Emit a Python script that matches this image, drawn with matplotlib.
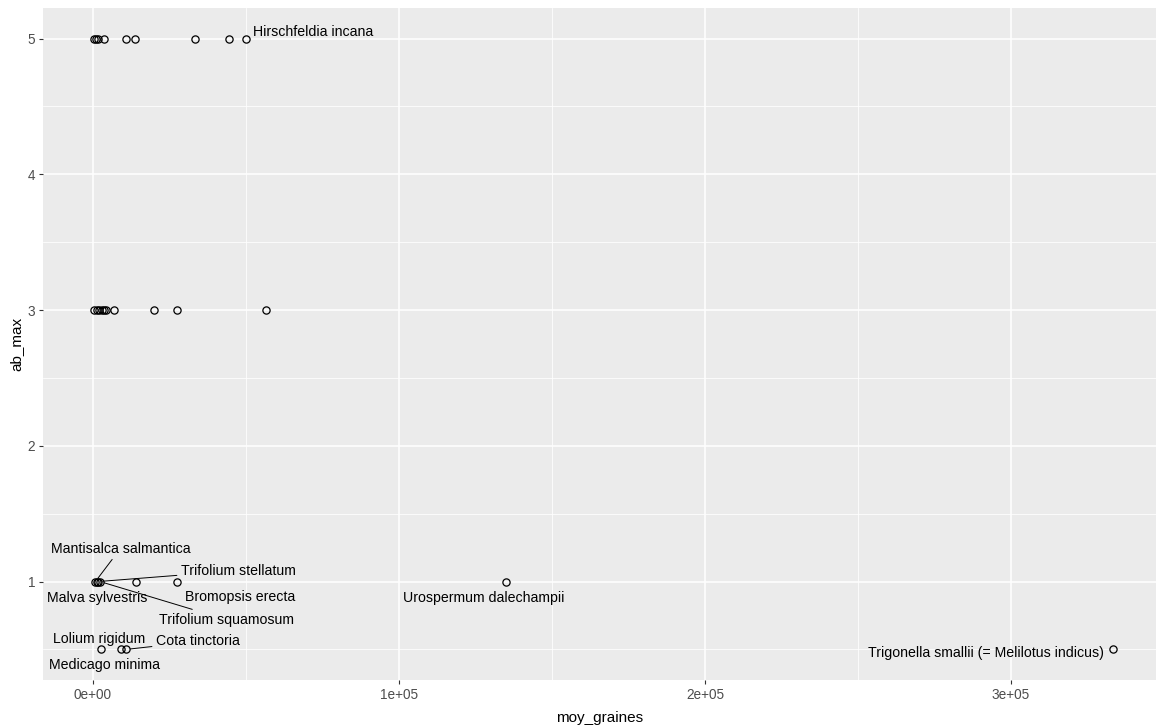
import numpy as np
import matplotlib.pyplot as plt
from matplotlib.ticker import FixedLocator, FuncFormatter

plt.rcParams['font.family'] = ['Liberation Sans', 'DejaVu Sans']

# data
moy_graines = [300, 900, 1500, 3500, 10800, 13700, 33300, 44400, 50000,
               300, 1200, 2000, 2800, 3500, 4200, 6800, 19900, 27500, 56500,
               800, 1200, 1800, 2300, 14000, 27500, 135000,
               2600, 9200, 10800, 333300]
ab_max = [5, 5, 5, 5, 5, 5, 5, 5, 5,
          3, 3, 3, 3, 3, 3, 3, 3, 3, 3,
          1, 1, 1, 1, 1, 1, 1,
          0.5, 0.5, 0.5, 0.5]
species = ['', '', '', '', '', '', '', '', 'Hirschfeldia incana',
           '', '', '', '', '', '', '', '', '', '',
           'Mantisalca salmantica', 'Malva sylvestris', 'Trifolium stellatum',
           'Trifolium squamosum', '', 'Bromopsis erecta', 'Urospermum dalechampii',
           'Lolium rigidum', 'Medicago minima', 'Cota tinctoria',
           'Trigonella smallii (= Melilotus indicus)']

# label placement (pixel offsets, repel-like) and whether a segment is drawn
label_pos = {
    'Hirschfeldia incana': (67, 7, False),
    'Mantisalca salmantica': (25, 33, True),
    'Malva sylvestris': (1, -16, False),
    'Trifolium stellatum': (140, 11, True),
    'Trifolium squamosum': (126, -38, True),
    'Bromopsis erecta': (63, -15, False),
    'Urospermum dalechampii': (-22, -16, False),
    'Lolium rigidum': (-2, 10, False),
    'Medicago minima': (-17, -16, False),
    'Cota tinctoria': (72, 8, True),
    'Trigonella smallii (= Melilotus indicus)': (-127, -4, False),
}

fig = plt.figure(figsize=(11.56, 7.27), dpi=100)
ax = fig.add_axes([0.0369, 0.0647, 0.9631, 0.9243])
ax.set_facecolor('#EBEBEB')

ax.plot(moy_graines, ab_max, 'o', mfc='none', mec='black', mew=0.9, ms=5.2, zorder=3)

for x, y, name in zip(moy_graines, ab_max, species):
    if not name:
        continue
    dx, dy, seg = label_pos[name]
    arrow = dict(arrowstyle='-', lw=0.7, color='black', shrinkA=1, shrinkB=3) if seg else None
    ax.annotate(name, (x, y), xytext=(dx, dy), textcoords='offset pixels',
                ha='center', va='center', fontsize=10.2, color='black',
                arrowprops=arrow, zorder=4)

# the original panel is cut off on the right
ax.set_xlim(-16440, 347400)
ax.set_ylim(0.5 - 0.05 * 4.5, 5 + 0.05 * 4.5)

xt = [0, 1e5, 2e5, 3e5]
ax.xaxis.set_major_locator(FixedLocator(xt))
ax.xaxis.set_minor_locator(FixedLocator([5e4, 1.5e5, 2.5e5]))
ax.xaxis.set_major_formatter(FuncFormatter(lambda v, p: f"{v:.0e}"))
ax.yaxis.set_major_locator(FixedLocator([1, 2, 3, 4, 5]))
ax.yaxis.set_minor_locator(FixedLocator([0.5, 1.5, 2.5, 3.5, 4.5]))

ax.grid(which='major', color='white', lw=1.1)
ax.grid(which='minor', color='white', lw=0.55)
ax.set_axisbelow(True)
for s in ax.spines.values():
    s.set_visible(False)
ax.tick_params(which='major', length=3, color='#333333', labelsize=9.8,
               labelcolor='#4D4D4D', width=0.8, pad=2.5)
ax.tick_params(which='minor', length=0)

ax.set_xlabel('moy_graines', fontsize=11, labelpad=7)
ax.set_ylabel('ab_max', fontsize=11, labelpad=3)

fig.savefig('out.png', dpi=100)
